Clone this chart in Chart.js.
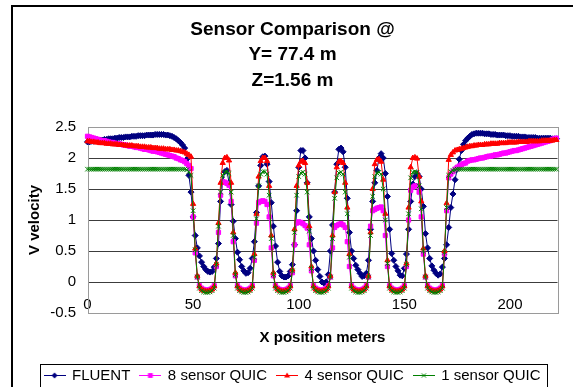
<!DOCTYPE html>
<html>
<head>
<meta charset="utf-8">
<script src="https://cdn.jsdelivr.net/npm/chart.js@4.4.1/dist/chart.umd.min.js"></script>
<style>
    html, body { margin: 0; padding: 0; background: #fff; }
    canvas { display: block; }
</style>
</head>
<body>
<canvas id="velChart" width="573" height="387"></canvas>
<script>
// x position along the line (m), one sample per metre
const xPos = Array.from({ length: 223 }, (_, i) => i);

const fluent = [
    2.26,2.26,2.27,2.27,2.28,2.28,2.29,2.29,2.30,2.30,
    2.31,2.31,2.31,2.32,2.32,2.33,2.33,2.33,2.34,2.34,
    2.34,2.35,2.35,2.35,2.36,2.36,2.36,2.36,2.37,2.37,
    2.37,2.37,2.38,2.38,2.38,2.38,2.38,2.37,2.37,2.36,
    2.35,2.33,2.31,2.28,2.25,2.21,2.16,1.98,1.72,1.45,
    1.05,0.75,0.55,0.42,0.32,0.25,0.20,0.17,0.16,0.17,
    0.24,0.38,0.62,1.30,1.62,1.78,1.80,1.60,1.25,0.98,
    0.70,0.48,0.36,0.25,0.18,0.14,0.15,0.22,0.38,0.65,
    1.12,1.55,1.88,2.02,2.03,1.90,1.62,1.28,0.90,0.58,
    0.32,0.17,0.10,0.08,0.08,0.10,0.17,0.28,0.60,1.15,
    1.85,2.12,2.12,2.00,1.60,1.05,0.70,0.50,0.35,0.20,
    0.09,0.00,-0.02,0.00,0.12,0.50,0.92,1.45,1.90,2.14,
    2.16,2.10,1.85,1.35,0.80,0.50,0.38,0.27,0.20,0.14,
    0.09,0.10,0.14,0.35,0.85,1.30,1.60,1.80,2.00,2.07,
    2.00,1.75,1.38,0.85,0.46,0.35,0.25,0.18,0.11,0.10,
    0.22,0.45,0.85,1.30,1.58,1.70,1.75,1.70,1.50,1.22,
    0.78,0.55,0.38,0.26,0.19,0.14,0.11,0.13,0.24,0.38,
    0.60,0.88,1.20,1.42,1.65,1.82,1.98,2.12,2.22,2.28,
    2.32,2.35,2.38,2.39,2.40,2.40,2.40,2.40,2.39,2.39,
    2.39,2.38,2.38,2.38,2.37,2.37,2.37,2.37,2.36,2.36,
    2.36,2.35,2.35,2.35,2.35,2.34,2.34,2.34,2.33,2.33,
    2.33,2.33,2.33,2.32,2.32,2.32,2.32,2.32,2.32,2.32,
    2.31,2.31,2.31
];

const quic8 = [
    2.35,2.34,2.33,2.32,2.31,2.30,2.29,2.28,2.28,2.27,
    2.26,2.25,2.25,2.24,2.23,2.23,2.22,2.21,2.21,2.20,
    2.19,2.19,2.18,2.17,2.17,2.16,2.15,2.14,2.14,2.13,
    2.12,2.11,2.11,2.10,2.09,2.08,2.07,2.06,2.05,2.04,
    2.03,2.02,2.00,1.99,1.97,1.96,1.94,1.91,1.88,1.83,
    1.05,0.47,0.08,-0.06,-0.10,-0.12,-0.13,-0.13,-0.12,-0.10,
    -0.06,0.25,0.80,1.40,1.62,1.61,1.59,1.56,1.30,0.65,
    0.10,-0.06,-0.10,-0.12,-0.13,-0.13,-0.12,-0.10,-0.06,0.35,
    0.95,1.28,1.30,1.31,1.30,1.25,1.05,0.55,0.10,-0.06,
    -0.10,-0.12,-0.13,-0.13,-0.12,-0.10,-0.06,0.15,0.60,0.95,
    0.97,0.96,0.94,0.91,0.87,0.60,0.18,-0.06,-0.10,-0.12,
    -0.13,-0.13,-0.12,-0.10,-0.06,0.08,0.55,0.88,0.91,0.93,
    0.94,0.92,0.88,0.65,0.25,-0.06,-0.10,-0.12,-0.13,-0.13,
    -0.12,-0.10,-0.06,0.08,0.90,1.15,1.17,1.19,1.20,1.21,
    1.15,0.75,0.25,-0.06,-0.10,-0.12,-0.13,-0.13,-0.12,-0.10,
    -0.06,0.25,1.00,1.48,1.53,1.55,1.55,1.45,1.05,0.45,
    0.08,-0.06,-0.10,-0.12,-0.13,-0.13,-0.12,-0.10,-0.06,0.45,
    1.15,1.68,1.74,1.78,1.82,1.85,1.87,1.89,1.91,1.92,
    1.95,1.96,1.97,1.97,1.98,1.99,2.00,2.00,2.01,2.02,
    2.03,2.03,2.04,2.05,2.05,2.06,2.07,2.08,2.08,2.09,
    2.10,2.11,2.12,2.12,2.13,2.14,2.15,2.16,2.17,2.18,
    2.19,2.20,2.21,2.22,2.23,2.24,2.25,2.26,2.27,2.28,
    2.30,2.31,2.32
];

const quic4 = [
    2.27,2.27,2.26,2.26,2.25,2.25,2.24,2.24,2.24,2.23,
    2.23,2.23,2.22,2.22,2.22,2.21,2.21,2.21,2.20,2.20,
    2.20,2.20,2.19,2.19,2.19,2.18,2.18,2.18,2.17,2.17,
    2.17,2.16,2.16,2.16,2.15,2.15,2.15,2.14,2.14,2.14,
    2.13,2.13,2.12,2.12,2.11,2.10,2.09,2.07,2.05,2.02,
    1.26,0.54,0.10,-0.07,-0.12,-0.14,-0.15,-0.15,-0.14,-0.12,
    -0.07,0.30,0.95,1.60,1.92,2.00,2.01,1.96,1.60,0.80,
    0.15,-0.07,-0.12,-0.14,-0.15,-0.15,-0.14,-0.12,-0.07,0.45,
    1.10,1.70,1.95,2.00,2.00,1.95,1.55,0.75,0.15,-0.07,
    -0.12,-0.14,-0.15,-0.15,-0.14,-0.12,-0.07,0.20,0.85,1.55,
    1.88,1.94,1.95,1.92,1.60,0.90,0.25,-0.07,-0.12,-0.14,
    -0.15,-0.15,-0.14,-0.12,-0.07,0.10,0.75,1.45,1.85,1.94,
    1.95,1.92,1.60,1.20,0.45,-0.07,-0.12,-0.14,-0.15,-0.15,
    -0.14,-0.12,-0.07,0.10,0.80,1.50,1.90,1.97,1.98,1.94,
    1.65,1.10,0.35,-0.07,-0.12,-0.14,-0.15,-0.15,-0.14,-0.12,
    -0.07,0.30,1.20,1.85,2.00,2.01,1.99,1.70,1.30,0.54,
    0.10,-0.07,-0.12,-0.14,-0.15,-0.15,-0.14,-0.12,-0.07,0.50,
    1.27,1.97,2.05,2.09,2.12,2.13,2.14,2.15,2.16,2.17,
    2.18,2.19,2.19,2.20,2.20,2.21,2.21,2.21,2.22,2.22,
    2.22,2.23,2.23,2.23,2.23,2.24,2.24,2.24,2.24,2.25,
    2.25,2.25,2.25,2.25,2.26,2.26,2.26,2.26,2.26,2.27,
    2.27,2.27,2.27,2.27,2.27,2.28,2.28,2.28,2.28,2.28,
    2.28,2.29,2.29
];

const quic1 = [
    1.82,1.82,1.82,1.82,1.82,1.82,1.82,1.82,1.82,1.82,
    1.82,1.82,1.82,1.82,1.82,1.82,1.82,1.82,1.82,1.82,
    1.82,1.82,1.82,1.82,1.82,1.82,1.82,1.82,1.82,1.82,
    1.82,1.82,1.82,1.82,1.82,1.82,1.82,1.82,1.82,1.82,
    1.82,1.82,1.82,1.82,1.82,1.82,1.82,1.81,1.78,1.72,
    1.15,0.52,0.08,-0.10,-0.14,-0.16,-0.17,-0.17,-0.16,-0.14,
    -0.10,0.28,0.90,1.45,1.72,1.77,1.78,1.75,1.45,0.75,
    0.12,-0.10,-0.14,-0.16,-0.17,-0.17,-0.16,-0.14,-0.10,0.40,
    1.02,1.55,1.74,1.78,1.78,1.74,1.40,0.70,0.12,-0.10,
    -0.14,-0.16,-0.17,-0.17,-0.16,-0.14,-0.10,0.18,0.80,1.40,
    1.70,1.76,1.77,1.74,1.45,0.82,0.22,-0.10,-0.14,-0.16,
    -0.17,-0.17,-0.16,-0.14,-0.10,0.08,0.70,1.35,1.68,1.76,
    1.77,1.74,1.45,1.10,0.40,-0.10,-0.14,-0.16,-0.17,-0.17,
    -0.16,-0.14,-0.10,0.08,0.75,1.38,1.70,1.76,1.77,1.74,
    1.50,1.00,0.30,-0.10,-0.14,-0.16,-0.17,-0.17,-0.16,-0.14,
    -0.10,0.28,1.10,1.68,1.77,1.78,1.77,1.55,1.18,0.50,
    0.08,-0.10,-0.14,-0.16,-0.17,-0.17,-0.16,-0.14,-0.10,0.48,
    1.20,1.72,1.78,1.80,1.81,1.82,1.82,1.82,1.82,1.82,
    1.82,1.82,1.82,1.82,1.82,1.82,1.82,1.82,1.82,1.82,
    1.82,1.82,1.82,1.82,1.82,1.82,1.82,1.82,1.82,1.82,
    1.82,1.82,1.82,1.82,1.82,1.82,1.82,1.82,1.82,1.82,
    1.82,1.82,1.82,1.82,1.82,1.82,1.82,1.82,1.82,1.82,
    1.82,1.82,1.82
];

const seriesNames = ['FLUENT', '8 sensor QUIC', '4 sensor QUIC', '1 sensor QUIC'];
const seriesColors = ['#000080', '#FF00FF', '#FF0000', '#008000'];
const seriesShapes = ['rectRot', 'rect', 'triangle', 'crossRot'];
const yTicks = [-0.5, 0, 0.5, 1, 1.5, 2, 2.5];
const xTicks = [0, 50, 100, 150, 200];

const FONT = "'Liberation Sans', Arial, sans-serif";

// small marker used in the legend swatches
function drawMarker(g, shape, x, y, r) {
    g.beginPath();
    if (shape === 'rectRot') {
        g.moveTo(x, y - r); g.lineTo(x + r, y); g.lineTo(x, y + r); g.lineTo(x - r, y); g.closePath(); g.fill();
    } else if (shape === 'rect') {
        g.rect(x - r * 0.8, y - r * 0.8, r * 1.6, r * 1.6); g.fill();
    } else if (shape === 'triangle') {
        g.moveTo(x, y - r); g.lineTo(x + r, y + r * 0.7); g.lineTo(x - r, y + r * 0.7); g.closePath(); g.fill();
    } else {
        g.moveTo(x - r * 0.7, y - r * 0.7); g.lineTo(x + r * 0.7, y + r * 0.7);
        g.moveTo(x + r * 0.7, y - r * 0.7); g.lineTo(x - r * 0.7, y + r * 0.7); g.stroke();
    }
}

function legendGlyph(color, shape) {
    const c = document.createElement('canvas');
    c.width = 22; c.height = 9;
    const g = c.getContext('2d');
    g.strokeStyle = color; g.fillStyle = color; g.lineWidth = 1;
    g.beginPath(); g.moveTo(0, 4.5); g.lineTo(22, 4.5); g.stroke();
    drawMarker(g, shape, 11, 4.5, 3);
    return c;
}
const glyphs = seriesColors.map((c, i) => legendGlyph(c, seriesShapes[i]));

const seriesData = [fluent, quic8, quic4, quic1];
const datasets = seriesData.map((vals, i) => ({
    label: seriesNames[i],
    data: vals,
    borderColor: seriesColors[i],
    backgroundColor: seriesColors[i],
    borderWidth: 1,
    pointStyle: seriesShapes[i],
    pointRadius: seriesShapes[i] === 'crossRot' ? 3.2 : 3,
    pointBorderWidth: 1,
    pointBorderColor: seriesColors[i],
    pointBackgroundColor: seriesColors[i],
    tension: 0,
    clip: false,
    order: 4 - i
}));

// white page, outer frame, plot border and legend box
const framePlugin = {
    id: 'frame',
    beforeDraw(chart) {
        const c = chart.ctx;
        c.save();
        c.fillStyle = '#fff';
        c.fillRect(0, 0, chart.width, chart.height);
        c.strokeStyle = '#000';
        c.lineWidth = 2;
        c.beginPath();
        c.moveTo(12, chart.height + 2); c.lineTo(12, 6); c.lineTo(chart.width + 2, 6);
        c.stroke();
        c.restore();
    },
    beforeDatasetsDraw(chart) {
        const a = chart.chartArea, c = chart.ctx;
        c.save();
        c.strokeStyle = '#9a9a9a';
        c.lineWidth = 1;
        c.strokeRect(Math.round(a.left) + 0.5, Math.round(a.top) + 0.5,
            Math.round(a.right - a.left), Math.round(a.bottom - a.top));
        c.restore();
    },
    afterDraw(chart) {
        const hb = chart.legend.legendHitBoxes;
        if (!hb || !hb.length) return;
        const l = Math.min(...hb.map(h => h.left)) - 5;
        const r = Math.max(...hb.map(h => h.left + h.width)) + 6;
        const t = hb[0].top - 4.5;
        const c = chart.ctx;
        c.save();
        c.strokeStyle = '#000';
        c.lineWidth = 1;
        c.strokeRect(Math.round(l) + 0.5, Math.round(t) + 0.5, Math.round(r - l), 23);
        c.restore();
    }
};

new Chart(document.getElementById('velChart'), {
    type: 'line',
    data: { labels: xPos, datasets: datasets },
    options: {
        responsive: false,
        animation: false,
        events: [],
        layout: { padding: { left: 12, top: 6, right: 0, bottom: -6 } },
        scales: {
            x: {
                type: 'linear',
                min: 0, max: 222.5,
                afterBuildTicks: s => { s.ticks = xTicks.map(v => ({ value: v })); },
                afterFit: s => { s.height = 45; },
                grid: { display: false, drawTicks: false },
                border: { display: false },
                // labels sit just inside the plot, above its bottom edge
                ticks: {
                    mirror: true, padding: -1, maxRotation: 0, color: '#000',
                    font: { family: FONT, size: 15 },
                    callback: v => String(v)
                },
                title: {
                    display: true, text: 'X position meters', color: '#000',
                    font: { family: FONT, size: 15, weight: 'bold' },
                    padding: { top: 0, bottom: 11 }
                }
            },
            y: {
                min: -0.5, max: 2.5,
                afterBuildTicks: s => { s.ticks = yTicks.map(v => ({ value: v })); },
                afterFit: s => { s.width = 75.5; },
                grid: {
                    drawTicks: false,
                    color: ctx => (ctx.tick && (ctx.tick.value === -0.5 || ctx.tick.value === 2.5)) ? 'rgba(0,0,0,0)' : '#3c3c3c',
                    lineWidth: 1
                },
                border: { display: false },
                ticks: {
                    padding: 11.5, color: '#000',
                    font: { family: FONT, size: 15 },
                    callback: v => String(v)
                },
                title: {
                    display: true, text: 'V velocity', color: '#000',
                    font: { family: FONT, size: 15, weight: 'bold' },
                    padding: { top: 14, bottom: 0 }
                }
            },
            yRight: {
                position: 'right',
                afterFit: s => { s.width = 15.5; },
                grid: { display: false, drawTicks: false },
                border: { display: false },
                ticks: { display: false }
            }
        },
        plugins: {
            tooltip: { enabled: false },
            title: {
                display: true,
                text: ['Sensor Comparison @', 'Y= 77.4 m', 'Z=1.56 m'],
                color: '#000',
                font: { family: FONT, size: 19, weight: 'bold', lineHeight: 25.5 / 19 },
                padding: { top: 11, bottom: 33.5 }
            },
            legend: {
                position: 'bottom',
                labels: {
                    usePointStyle: true,
                    pointStyleWidth: 20,
                    padding: 10,
                    color: '#000',
                    font: { family: FONT, size: 15 },
                    generateLabels: chart => chart.data.datasets.map((ds, i) => ({
                        text: ds.label,
                        pointStyle: glyphs[i],
                        fillStyle: ds.borderColor,
                        strokeStyle: ds.borderColor,
                        lineWidth: 0,
                        fontColor: '#000',
                        hidden: false,
                        datasetIndex: i
                    }))
                }
            }
        }
    },
    plugins: [framePlugin]
});
</script>
</body>
</html>
